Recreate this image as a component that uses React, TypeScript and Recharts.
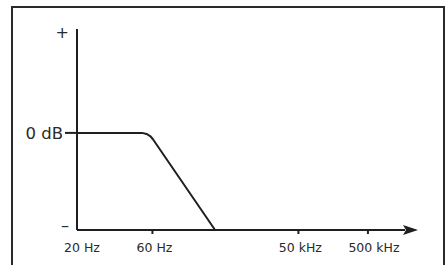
import { LineChart, Line, XAxis, YAxis } from "recharts";

// schematic positions along the frequency axis (0..100)
const freqPos = [0, 23, 67.5, 88.7];
const freqLabels = ["20 Hz", "60 Hz", "50 kHz", "500 kHz"];

// level axis: bottom "–", 0 dB, top "+"
const levelTicks = [-100, 0, 107];
const levelLabels = ["–", "0 dB", "+"];

// low-pass response curve
const respX = [0, 19.8, 21.2, 22.3, 23.1, 42.1];
const respY = [0, 0, -1.1, -3.2, -6.3, -100];

const data = respX.map((x, i) => ({ x, y: respY[i] }));

const INK = "#1f1f1f";
const FONT = "'DejaVu Sans', Lato, sans-serif";

const XTick = (props: any) => {
  const { x, y, payload, index } = props;
  const label = freqLabels[freqPos.indexOf(payload.value)];
  const dx = index === 0 ? 5 : index === 3 ? 6 : 2;
  return (
    <g>
      {index > 0 && <line x1={x} x2={x} y1={y - 1} y2={y + 4} stroke={INK} strokeWidth={2} />}
      <text x={x + dx} y={y + 22} textAnchor="middle" fontSize={12.5} fill="#2a2a2a" fontFamily={FONT}>
        {label}
      </text>
    </g>
  );
};

const YTick = (props: any) => {
  const { x, y, payload } = props;
  const v = payload.value;
  const label = levelLabels[levelTicks.indexOf(v)];
  if (v === 0) {
    return (
      <g>
        <line x1={x - 12} x2={x} y1={y} y2={y} stroke={INK} strokeWidth={2} />
        <text x={x - 14} y={y + 6} textAnchor="end" fontSize={16.5} fill="#2a2a2a" fontFamily={FONT}>
          {label}
        </text>
      </g>
    );
  }
  const dy = v > 0 ? 9 : 1;
  return (
    <text x={x - 8} y={y + dy} textAnchor="end" fontSize={16} fill="#2a2a2a" fontFamily={FONT}>
      {label}
    </text>
  );
};

export default function App() {
  return (
    <div style={{ position: "fixed", left: 0, top: 0, width: 446, height: 265, overflow: "hidden", background: "#fff" }}>
      <svg width={0} height={0} style={{ position: "absolute" }}>
        <defs>
          <marker id="arrowHead" viewBox="0 0 15 10" refX={2} refY={5} markerWidth={15} markerHeight={10} markerUnits="userSpaceOnUse" orient="auto">
            <path d="M0,0 L15,5 L0,10 L3,5 z" fill={INK} />
          </marker>
        </defs>
      </svg>
      <div
        style={{
          position: "absolute",
          left: 11,
          top: 6,
          width: 430,
          height: 300,
          border: "2px solid #2a2a2a",
        }}
      />
      <div style={{ position: "absolute", left: 0, top: 0 }}>
        <LineChart width={446} height={265} data={data} margin={{ top: 29, right: 41, bottom: 0, left: 0 }}>
          <XAxis
            dataKey="x"
            type="number"
            domain={[0, 100]}
            ticks={freqPos}
            interval={0}
            height={35}
            tickLine={false}
            tickSize={0}
            tickMargin={0}
            tick={<XTick />}
            axisLine={{ stroke: INK, strokeWidth: 2, markerEnd: "url(#arrowHead)" }}
          />
          <YAxis
            type="number"
            domain={[-100, 107]}
            ticks={levelTicks}
            interval={0}
            width={77}
            tickLine={false}
            tickSize={0}
            tickMargin={0}
            tick={<YTick />}
            axisLine={{ stroke: INK, strokeWidth: 2 }}
          />
          <Line
            dataKey="y"
            type="linear"
            stroke={INK}
            strokeWidth={2}
            dot={false}
            activeDot={false}
            strokeLinejoin="round"
            isAnimationActive={false}
          />
        </LineChart>
      </div>
    </div>
  );
}
